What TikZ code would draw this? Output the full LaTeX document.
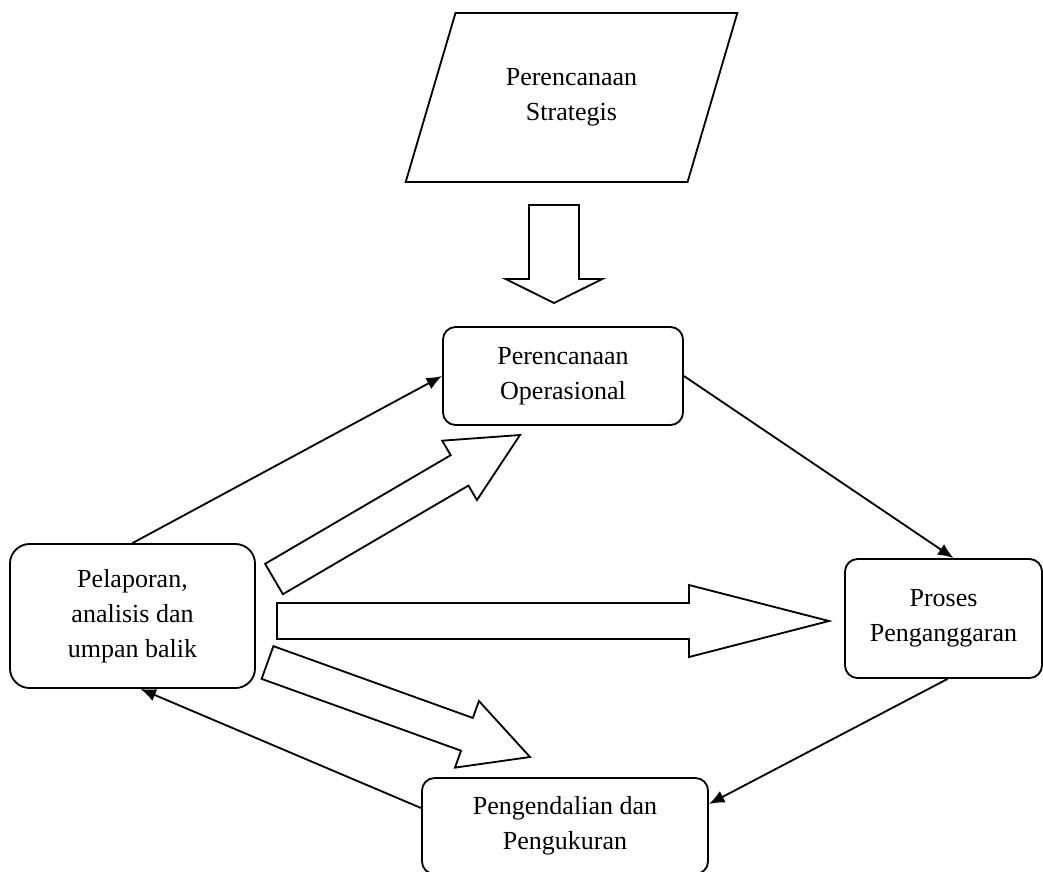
\documentclass[tikz,border=0pt]{standalone}
\usepackage{fontspec}
\setmainfont{Liberation Serif}
\usetikzlibrary{arrows.meta,calc,shapes.geometric}

\newcommand{\boxfont}{\fontsize{18.5}{25}\selectfont}
% hollow block arrow: tail, tip, half shaft, half head, head length
\newcommand{\fatarrow}[5]{%
  \coordinate (hb) at ($(#2)!#5!(#1)$);
  \draw[fat] ($(#1)!#3!90:(#2)$) -- ($(hb)!#3!90:(#2)$) -- ($(hb)!#4!90:(#2)$) -- (#2)
    -- ($(hb)!#4!-90:(#2)$) -- ($(hb)!#3!-90:(#2)$) -- ($(#1)!#3!-90:(#2)$) -- cycle;}

\begin{document}
\begin{tikzpicture}[x=0.025cm,y=-0.025cm,>={Latex[length=11pt,width=9pt]},
  box/.style={draw,line width=1.3pt,rounded corners=9pt,align=center,inner sep=0pt,font=\boxfont},
  link/.style={->,line width=1.3pt},
  fat/.style={line width=1.3pt,fill=white,line join=miter}]
  \useasboundingbox (0,0) rectangle (1043,871);
  \node[box,sharp corners,trapezium,trapezium left angle=64,trapezium right angle=116,
    trapezium stretches=true,minimum width=8.3cm,minimum height=4.225cm] (ps) at (571.5,97.5) {Perencanaan\\Strategis};
  \node[box,minimum width=6cm,minimum height=2.45cm] (po) at (563,376) {Perencanaan\\Operasional};
  \node[box,rounded corners=14pt,minimum width=6.125cm,minimum height=3.6cm] (pl) at (132.5,616) {Pelaporan,\\analisis dan\\umpan balik};
  \node[box,minimum width=4.925cm,minimum height=2.975cm] (pp) at (943.5,618.5) {Proses\\Penganggaran};
  \node[box,minimum width=7.15cm,minimum height=2.4cm] (pg) at (565,826) {Pengendalian dan\\Pengukuran};
  % block arrows
  \coordinate (a0) at (554,205); \coordinate (a1) at (554,303);
  \coordinate (b0) at (274,579); \coordinate (b1) at (520,435);
  \coordinate (c0) at (277,621); \coordinate (c1) at (829,621);
  \coordinate (d0) at (267.5,662.5); \coordinate (d1) at (530,757);
  \fatarrow{a0}{a1}{0.625cm}{1.21cm}{0.6cm}
  \fatarrow{b0}{b1}{0.44cm}{0.86cm}{1.75cm}
  \fatarrow{c0}{c1}{0.45cm}{0.9cm}{3.5cm}
  \fatarrow{d0}{d1}{0.435cm}{0.885cm}{1.675cm}
  % cycle
  \draw[link] (pl.north) -- (po.west);
  \draw[link] (po.east) -- ([xshift=0.25cm]pp.north);
  \draw[link] ([xshift=0.1cm]pp.south) -- ([yshift=0.55cm]pg.east);
  \draw[link] ([yshift=0.45cm]pg.west) -- ([xshift=0.2cm]pl.south);
\end{tikzpicture}
\end{document}
